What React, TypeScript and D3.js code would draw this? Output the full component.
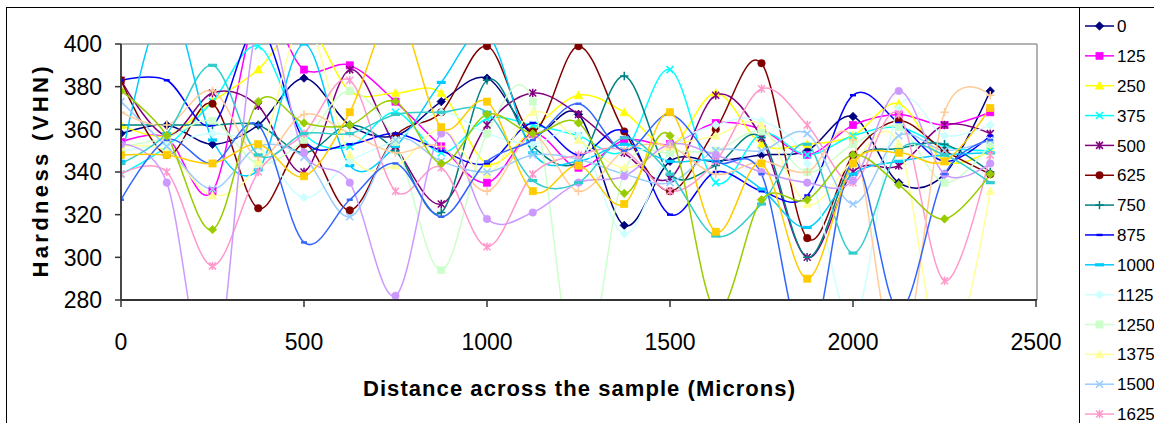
import React from "react";
import * as d3 from "d3";

// Distance across the sample (Microns)
const distances = [0, 125, 250, 375, 500, 625, 750, 875, 1000, 1125, 1250, 1375, 1500, 1625, 1750, 1875, 2000, 2125, 2250, 2375];
const seriesNames = ["0", "125", "250", "375", "500", "625", "750", "875", "1000", "1125", "1250", "1375", "1500", "1625", "1750", "1875", "2000", "2125", "2250", "2375"];

const hv0 = [358, 362, 353, 362, 384, 362, 357, 373, 384, 358, 367, 315, 345, 345, 348, 350, 366, 335, 339, 378];
const hv125 = [354, 356, 331, 415, 388, 390, 373, 352, 335, 358, 342, 355, 353, 363, 360, 348, 362, 367, 362, 368];
const hv250 = [362, 357, 373, 388, 410, 378, 377, 377, 344, 360, 376, 368, 352, 377, 353, 353, 357, 372, 345, 350];
const hv375 = [339, 352, 373, 399, 358, 352, 368, 349, 365, 362, 357, 350, 388, 335, 358, 348, 357, 361, 352, 350];
const hv500 = [383, 357, 377, 371, 340, 388, 352, 325, 362, 377, 367, 349, 337, 376, 356, 300, 340, 343, 362, 358];
const hv625 = [383, 348, 372, 323, 353, 322, 357, 368, 399, 359, 399, 359, 331, 360, 391, 309, 348, 364, 350, 339];
const hv750 = [362, 362, 362, 362, 349, 362, 350, 321, 383, 352, 345, 385, 339, 343, 356, 300, 345, 351, 353, 340];
const hv875 = [383, 383, 362, 408, 355, 353, 358, 350, 344, 363, 348, 359, 320, 340, 331, 329, 376, 363, 345, 357];
const hv1000 = [345, 420, 355, 341, 400, 343, 352, 382, 405, 349, 345, 353, 345, 345, 332, 314, 339, 345, 348, 349];
const hv1125 = [350, 353, 358, 352, 328, 345, 355, 368, 358, 353, 357, 311, 350, 362, 364, 344, 270, 370, 357, 362];
const hv1250 = [352, 356, 364, 344, 355, 378, 354, 294, 358, 373, 240, 340, 349, 350, 359, 340, 353, 361, 335, 353];
const hv1375 = [352, 350, 329, 345, 410, 348, 343, 360, 339, 368, 355, 342, 352, 357, 362, 325, 345, 353, 250, 331];
const hv1500 = [373, 352, 332, 352, 347, 319, 355, 345, 340, 348, 346, 339, 335, 350, 350, 358, 325, 357, 350, 355];
const hv1625 = [339, 340, 296, 340, 358, 383, 331, 342, 305, 339, 348, 350, 331, 345, 379, 362, 335, 367, 289, 348];
const hv1750 = [353, 335, 240, 410, 349, 335, 282, 358, 318, 321, 335, 338, 353, 348, 340, 335, 336, 378, 339, 344];
const hv1875 = [368, 362, 378, 347, 367, 358, 349, 352, 331, 357, 331, 350, 352, 339, 345, 340, 355, 250, 368, 376];
const hv2000 = [327, 355, 344, 362, 307, 327, 344, 319, 345, 355, 372, 350, 367, 345, 339, 255, 345, 275, 339, 355];
const hv2125 = [344, 358, 390, 348, 358, 358, 367, 368, 368, 336, 335, 356, 339, 310, 325, 353, 302, 350, 348, 335];
const hv2250 = [378, 357, 313, 373, 363, 362, 373, 344, 367, 358, 363, 330, 357, 275, 327, 327, 348, 334, 318, 339];
const hv2375 = [348, 348, 344, 353, 338, 368, 415, 361, 373, 331, 343, 325, 368, 312, 344, 290, 344, 349, 345, 370];

const seriesValues = [hv0, hv125, hv250, hv375, hv500, hv625, hv750, hv875, hv1000, hv1125, hv1250, hv1375, hv1500, hv1625, hv1750, hv1875, hv2000, hv2125, hv2250, hv2375];

const seriesColors = ["#000080", "#FF00FF", "#FFFF00", "#00FFFF", "#800080", "#800000", "#008080", "#0000FF", "#00CCFF", "#CCFFFF", "#CCFFCC", "#FFFF99", "#99CCFF", "#FF99CC", "#CC99FF", "#FFCC99", "#3366FF", "#33CCCC", "#99CC00", "#FFCC00"];
const markerCycle = ["diamond", "square", "triangle", "x", "star", "circle", "plus", "dashS", "dashL"];

const yTicks = [280, 300, 320, 340, 360, 380, 400];
const xTicks = [0, 500, 1000, 1500, 2000, 2500];

const FONT = "'Liberation Sans', Arial, Helvetica, sans-serif";

const PL = 121, PR = 1037, PT = 44, PB = 300;
const W = 1154, H = 423;

function Marker({ type, cx, cy, color }: { type: string; cx: number; cy: number; color: string }) {
  switch (type) {
    case "diamond":
      return <path d={`M${cx},${cy - 4.2}L${cx + 4.2},${cy}L${cx},${cy + 4.2}L${cx - 4.2},${cy}Z`} fill={color} stroke={color} strokeWidth={0.8} />;
    case "square":
      return <rect x={cx - 3.6} y={cy - 3.6} width={7.2} height={7.2} fill={color} stroke={color} strokeWidth={0.6} />;
    case "triangle":
      return <path d={`M${cx},${cy - 4.5}L${cx + 4.3},${cy + 3.5}L${cx - 4.3},${cy + 3.5}Z`} fill={color} stroke={color} strokeWidth={0.6} />;
    case "x":
      return <path d={`M${cx - 3.5},${cy - 3.5}L${cx + 3.5},${cy + 3.5}M${cx + 3.5},${cy - 3.5}L${cx - 3.5},${cy + 3.5}`} stroke={color} strokeWidth={1.6} fill="none" />;
    case "star":
      return <path d={`M${cx - 3.5},${cy - 3.5}L${cx + 3.5},${cy + 3.5}M${cx + 3.5},${cy - 3.5}L${cx - 3.5},${cy + 3.5}M${cx},${cy - 4.2}L${cx},${cy + 4.2}`} stroke={color} strokeWidth={1.5} fill="none" />;
    case "circle":
      return <circle cx={cx} cy={cy} r={3.8} fill={color} stroke={color} strokeWidth={0.5} />;
    case "plus":
      return <path d={`M${cx - 4.2},${cy}L${cx + 4.2},${cy}M${cx},${cy - 4.2}L${cx},${cy + 4.2}`} stroke={color} strokeWidth={1.5} fill="none" />;
    case "dashS":
      return <rect x={cx - 3} y={cy - 1.2} width={6} height={2.4} fill={color} />;
    case "dashL":
      return <rect x={cx - 4.5} y={cy - 1.6} width={9} height={3.2} fill={color} />;
    default:
      return null;
  }
}

export default function App() {
  const x = d3.scaleLinear().domain([0, 2500]).range([PL, PR - 1]);
  const y = d3.scaleLinear().domain([280, 400]).range([PB, PT]);
  const line = d3
    .line<number>()
    .x((_, i) => x(distances[i]))
    .y((v) => y(v))
    .curve(d3.curveCardinal.tension(0));

  const legendTop = 26;
  const legendStep = 29.85;
  // the legend box runs past the bottom of the picture; only the rows that fit are visible
  const legendRows = seriesNames
    .map((name, si) => ({ name, si, cy: legendTop + si * legendStep }))
    .filter((r) => r.cy + 6 < H);

  return (
    <svg width={W} height={H} style={{ position: "absolute", left: 0, top: 0, background: "#fff" }} fontFamily={FONT}>
      <defs>
        <clipPath id="plotClip">
          <rect x={PL} y={PT} width={PR - PL} height={PB - PT} />
        </clipPath>
      </defs>
      <rect x={0} y={0} width={W} height={H} fill="#fff" />
      {/* chart area border */}
      <rect x={6.5} y={7.5} width={1170} height={440} fill="none" stroke="#000" strokeWidth={1} />
      {/* plot area */}
      <rect x={PL} y={PT} width={PR - PL} height={PB - PT} fill="#fff" />
      <line x1={PL} y1={PT} x2={PR} y2={PT} stroke="#9a9a9a" strokeWidth={1.5} />
      <line x1={PR} y1={PT} x2={PR} y2={PB} stroke="#9a9a9a" strokeWidth={1.5} />

      {/* series */}
      <g clipPath="url(#plotClip)">
        {seriesValues.map((vals, si) => (
          <path key={"l" + si} d={line(vals) || ""} fill="none" stroke={seriesColors[si]} strokeWidth={1.5} />
        ))}
        {seriesValues.map((vals, si) => (
          <g key={"m" + si}>
            {vals.map((v, i) => (
              <Marker key={i} type={markerCycle[si % markerCycle.length]} cx={x(distances[i])} cy={y(v)} color={seriesColors[si]} />
            ))}
          </g>
        ))}
      </g>

      {/* axes */}
      <line x1={PL} y1={PT} x2={PL} y2={PB} stroke="#333" strokeWidth={1.8} />
      <line x1={PL} y1={PB} x2={PR} y2={PB} stroke="#333" strokeWidth={1.8} />
      {yTicks.map((t) => (
        <g key={"yt" + t}>
          <line x1={PL - 6} x2={PL} y1={y(t)} y2={y(t)} stroke="#333" strokeWidth={1.5} />
          <text x={102} y={y(t)} dy="0.36em" textAnchor="end" fontSize={23} fill="#000">
            {t}
          </text>
        </g>
      ))}
      {xTicks.map((t) => (
        <g key={"xt" + t}>
          <line x1={x(t)} x2={x(t)} y1={PB} y2={PB + 7} stroke="#333" strokeWidth={1.5} />
          <text x={x(t)} y={350} textAnchor="middle" fontSize={23} fill="#000">
            {t}
          </text>
        </g>
      ))}
      <text x={579} y={396} textAnchor="middle" fontSize={22} fontWeight="bold" textLength={432} lengthAdjust="spacing" fill="#000">
        Distance across the sample (Microns)
      </text>
      <text transform={`translate(48,172) rotate(-90)`} textAnchor="middle" fontSize={22} fontWeight="bold" textLength={211} lengthAdjust="spacing" fill="#000">
        Hardness (VHN)
      </text>

      {/* legend */}
      <line x1={1079.5} y1={7.5} x2={1079.5} y2={H} stroke="#000" strokeWidth={1} />
      {legendRows.map(({ name, si, cy }) => (
        <g key={"lg" + si}>
          <line x1={1085} x2={1114} y1={cy} y2={cy} stroke={seriesColors[si]} strokeWidth={1.5} />
          <Marker type={markerCycle[si % markerCycle.length]} cx={1099.5} cy={cy} color={seriesColors[si]} />
          <text x={1117} y={cy} dy="0.36em" fontSize={17} fill="#000">
            {name}
          </text>
        </g>
      ))}
    </svg>
  );
}
